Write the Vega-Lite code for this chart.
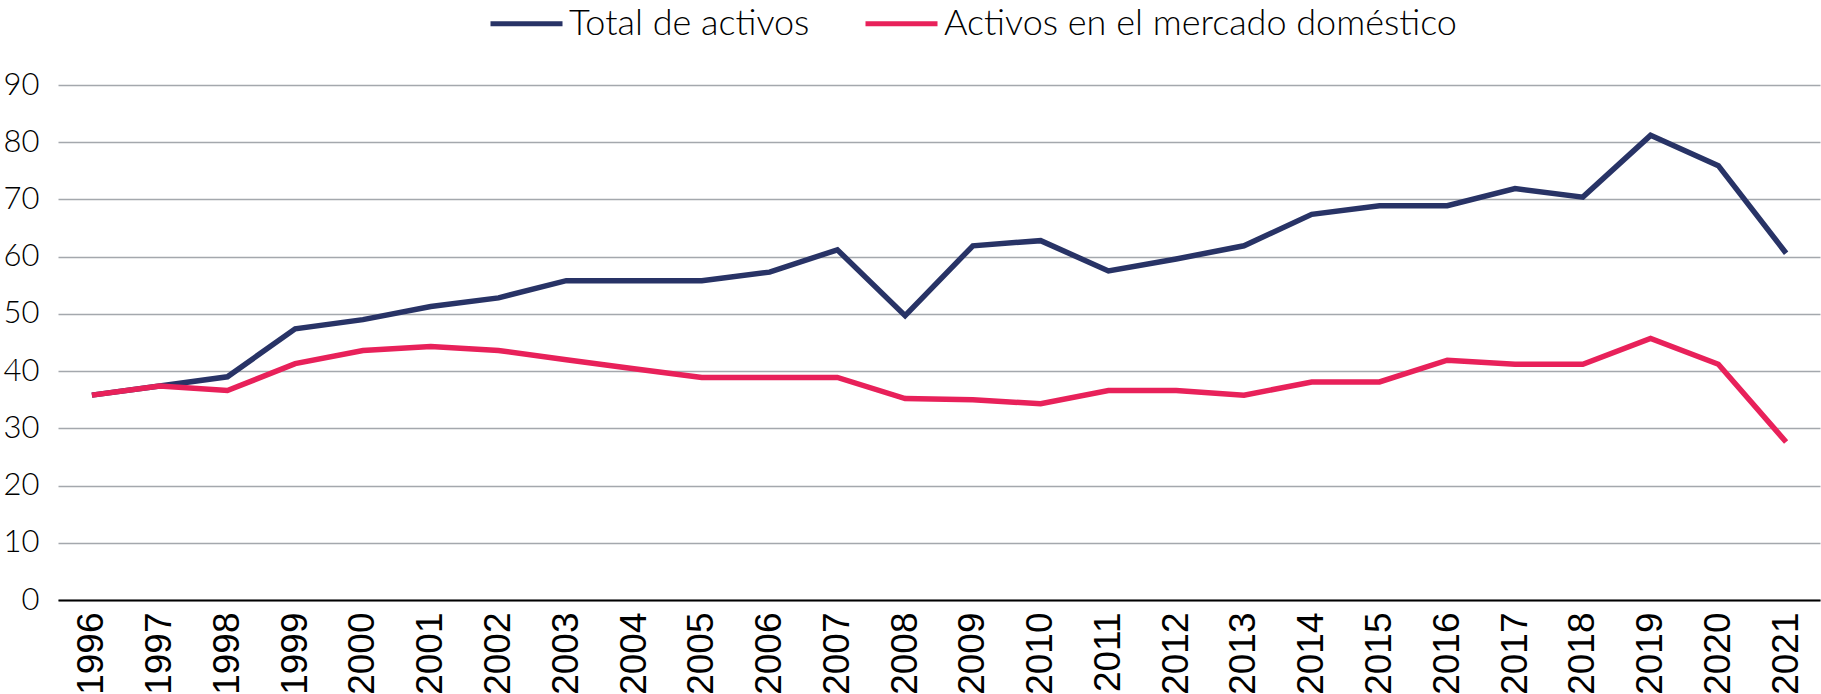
{
  "$schema": "https://vega.github.io/schema/vega-lite/v6.json",
  "autosize": "none",
  "width": 1762,
  "height": 515,
  "padding": {"left": 58, "top": 85, "right": 1, "bottom": 94},
  "background": "white",
  "config": {"view": {"stroke": null}},
  "data": {"values": [
    {"year": "1996", "serie": "Total de activos", "v": 35.8},
    {"year": "1997", "serie": "Total de activos", "v": 37.4},
    {"year": "1998", "serie": "Total de activos", "v": 39.0},
    {"year": "1999", "serie": "Total de activos", "v": 47.4},
    {"year": "2000", "serie": "Total de activos", "v": 49.0},
    {"year": "2001", "serie": "Total de activos", "v": 51.3},
    {"year": "2002", "serie": "Total de activos", "v": 52.8},
    {"year": "2003", "serie": "Total de activos", "v": 55.8},
    {"year": "2004", "serie": "Total de activos", "v": 55.8},
    {"year": "2005", "serie": "Total de activos", "v": 55.8},
    {"year": "2006", "serie": "Total de activos", "v": 57.3},
    {"year": "2007", "serie": "Total de activos", "v": 61.2},
    {"year": "2008", "serie": "Total de activos", "v": 49.7},
    {"year": "2009", "serie": "Total de activos", "v": 61.9},
    {"year": "2010", "serie": "Total de activos", "v": 62.8},
    {"year": "2011", "serie": "Total de activos", "v": 57.5},
    {"year": "2012", "serie": "Total de activos", "v": 59.6},
    {"year": "2013", "serie": "Total de activos", "v": 61.9},
    {"year": "2014", "serie": "Total de activos", "v": 67.4},
    {"year": "2015", "serie": "Total de activos", "v": 68.9},
    {"year": "2016", "serie": "Total de activos", "v": 68.9},
    {"year": "2017", "serie": "Total de activos", "v": 71.9},
    {"year": "2018", "serie": "Total de activos", "v": 70.4},
    {"year": "2019", "serie": "Total de activos", "v": 81.2},
    {"year": "2020", "serie": "Total de activos", "v": 75.9},
    {"year": "2021", "serie": "Total de activos", "v": 60.6},
    {"year": "1996", "serie": "Activos en el mercado doméstico", "v": 35.8},
    {"year": "1997", "serie": "Activos en el mercado doméstico", "v": 37.4},
    {"year": "1998", "serie": "Activos en el mercado doméstico", "v": 36.6},
    {"year": "1999", "serie": "Activos en el mercado doméstico", "v": 41.3},
    {"year": "2000", "serie": "Activos en el mercado doméstico", "v": 43.6},
    {"year": "2001", "serie": "Activos en el mercado doméstico", "v": 44.3},
    {"year": "2002", "serie": "Activos en el mercado doméstico", "v": 43.6},
    {"year": "2003", "serie": "Activos en el mercado doméstico", "v": 42.0},
    {"year": "2004", "serie": "Activos en el mercado doméstico", "v": 40.4},
    {"year": "2005", "serie": "Activos en el mercado doméstico", "v": 38.9},
    {"year": "2006", "serie": "Activos en el mercado doméstico", "v": 38.9},
    {"year": "2007", "serie": "Activos en el mercado doméstico", "v": 38.9},
    {"year": "2008", "serie": "Activos en el mercado doméstico", "v": 35.2},
    {"year": "2009", "serie": "Activos en el mercado doméstico", "v": 35.0},
    {"year": "2010", "serie": "Activos en el mercado doméstico", "v": 34.3},
    {"year": "2011", "serie": "Activos en el mercado doméstico", "v": 36.6},
    {"year": "2012", "serie": "Activos en el mercado doméstico", "v": 36.6},
    {"year": "2013", "serie": "Activos en el mercado doméstico", "v": 35.8},
    {"year": "2014", "serie": "Activos en el mercado doméstico", "v": 38.1},
    {"year": "2015", "serie": "Activos en el mercado doméstico", "v": 38.1},
    {"year": "2016", "serie": "Activos en el mercado doméstico", "v": 41.9},
    {"year": "2017", "serie": "Activos en el mercado doméstico", "v": 41.2},
    {"year": "2018", "serie": "Activos en el mercado doméstico", "v": 41.2},
    {"year": "2019", "serie": "Activos en el mercado doméstico", "v": 45.7},
    {"year": "2020", "serie": "Activos en el mercado doméstico", "v": 41.2},
    {"year": "2021", "serie": "Activos en el mercado doméstico", "v": 27.6}
  ]},
  "mark": {"type": "line", "strokeWidth": 5.5, "strokeJoin": "miter", "strokeCap": "butt"},
  "encoding": {
    "x": {
      "field": "year", "type": "ordinal", "title": null,
      "scale": {"type": "point", "padding": 0.5},
      "axis": {
        "labelAngle": -90, "labelFont": "Liberation Sans Narrow, Liberation Sans", "labelFontSize": 37,
        "labelColor": "#000000", "labelPadding": 12, "ticks": false,
        "domain": true, "domainColor": "#000000", "domainWidth": 2, "grid": false
      }
    },
    "y": {
      "field": "v", "type": "quantitative", "title": null,
      "scale": {"domain": [0, 90], "nice": false},
      "axis": {
        "values": [0, 10, 20, 30, 40, 50, 60, 70, 80, 90],
        "labelFont": "Lato", "labelFontWeight": 300, "labelFontSize": 31, "labelColor": "#000000",
        "labelPadding": 19, "ticks": false, "domain": false,
        "grid": true, "gridColor": "#a4a8ad", "gridWidth": 1.5
      }
    },
    "color": {
      "field": "serie", "type": "nominal",
      "scale": {"domain": ["Total de activos", "Activos en el mercado doméstico"], "range": ["#283366", "#e8215a"]},
      "legend": {
        "title": null, "orient": "none", "direction": "horizontal",
        "legendX": 430, "legendY": -100,
        "symbolType": "stroke", "symbolSize": 5184, "symbolStrokeWidth": 5,
        "labelFont": "Lato", "labelFontWeight": 300, "labelFontSize": 36, "labelColor": "#000000",
        "labelLimit": 800, "labelOffset": 4, "columnPadding": 45
      }
    }
  }
}
